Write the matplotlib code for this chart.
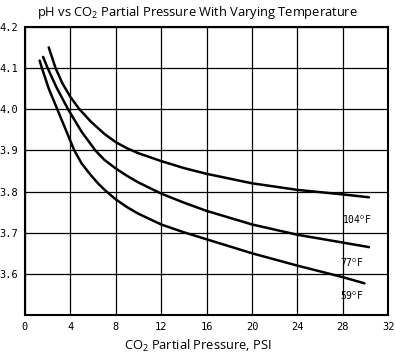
import matplotlib
matplotlib.use("Agg")
import matplotlib.pyplot as plt

plt.rcParams['mathtext.fontset'] = 'custom'
plt.rcParams['mathtext.rm'] = 'Open Sans'
plt.rcParams['mathtext.it'] = 'Open Sans:italic'

# values
x_104 = [2.1, 2.7, 3.3, 4, 4.8, 5.8, 7, 8, 9, 10, 12, 14, 16, 20, 24, 28, 30.3]
y_104 = [4.15, 4.10, 4.063, 4.03, 4.0, 3.97, 3.94, 3.92, 3.905, 3.893, 3.874, 3.857, 3.843, 3.82, 3.804, 3.793, 3.786]

x_77 = [1.6, 2.0, 2.8, 3.8, 5, 6.2, 7, 8, 9, 10, 12, 14, 16, 20, 24, 28, 30.3]
y_77 = [4.127, 4.10, 4.052, 4.0, 3.945, 3.90, 3.877, 3.856, 3.838, 3.822, 3.795, 3.773, 3.753, 3.72, 3.695, 3.676, 3.665]

x_59 = [1.3, 1.5, 2.1, 2.85, 3.6, 4.35, 5, 5.8, 6.5, 7.1, 8, 9, 10, 12, 14, 16, 20, 24, 28, 29.9]
y_59 = [4.118, 4.10, 4.05, 4.0, 3.95, 3.9, 3.868, 3.84, 3.818, 3.802, 3.781, 3.762, 3.746, 3.72, 3.701, 3.684, 3.65, 3.62, 3.592, 3.577]

curve_labels = [r"104$^{\rm o}$F", r"77$^{\rm o}$F", r"59$^{\rm o}$F"]
label_pos = [(29.2, 3.731), (28.8, 3.627), (28.8, 3.547)]

x_ticks = [0, 4, 8, 12, 16, 20, 24, 28, 32]
y_ticks = [3.6, 3.7, 3.8, 3.9, 4.0, 4.1, 4.2]

fig = plt.figure(figsize=(3.95, 3.58), dpi=100)
ax = fig.add_axes([0.063, 0.12, 0.92, 0.805])

for xs, ys in [(x_104, y_104), (x_77, y_77), (x_59, y_59)]:
    ax.plot(xs, ys, color='black', lw=1.8, solid_capstyle='round', solid_joinstyle='round')

for lab, (lx, ly) in zip(curve_labels, label_pos):
    ax.text(lx, ly, lab, fontsize=7, ha='center', va='center', family='DejaVu Sans Mono')

ax.set_xlim(0, 32)
ax.set_ylim(3.5, 4.2)
ax.set_xticks(x_ticks)
ax.set_yticks(y_ticks)
ax.set_xticklabels([str(t) for t in x_ticks], fontsize=7.5, family='DejaVu Sans Mono')
ax.set_yticklabels(["%.1f" % t for t in y_ticks], fontsize=7.5, family='DejaVu Sans Mono')
ax.tick_params(length=0, pad=5)
ax.grid(True, color='black', lw=0.9)
for s in ax.spines.values():
    s.set_linewidth(1.5)

fig.text(0.5, 0.965, r"pH vs CO$_2$ Partial Pressure With Varying Temperature",
         ha='center', va='center', fontsize=9.3, family='Open Sans')
fig.text(0.5, 0.035, r"CO$_2$ Partial Pressure, PSI",
         ha='center', va='center', fontsize=9.3, family='Open Sans')

fig.savefig("out.png", dpi=100)
